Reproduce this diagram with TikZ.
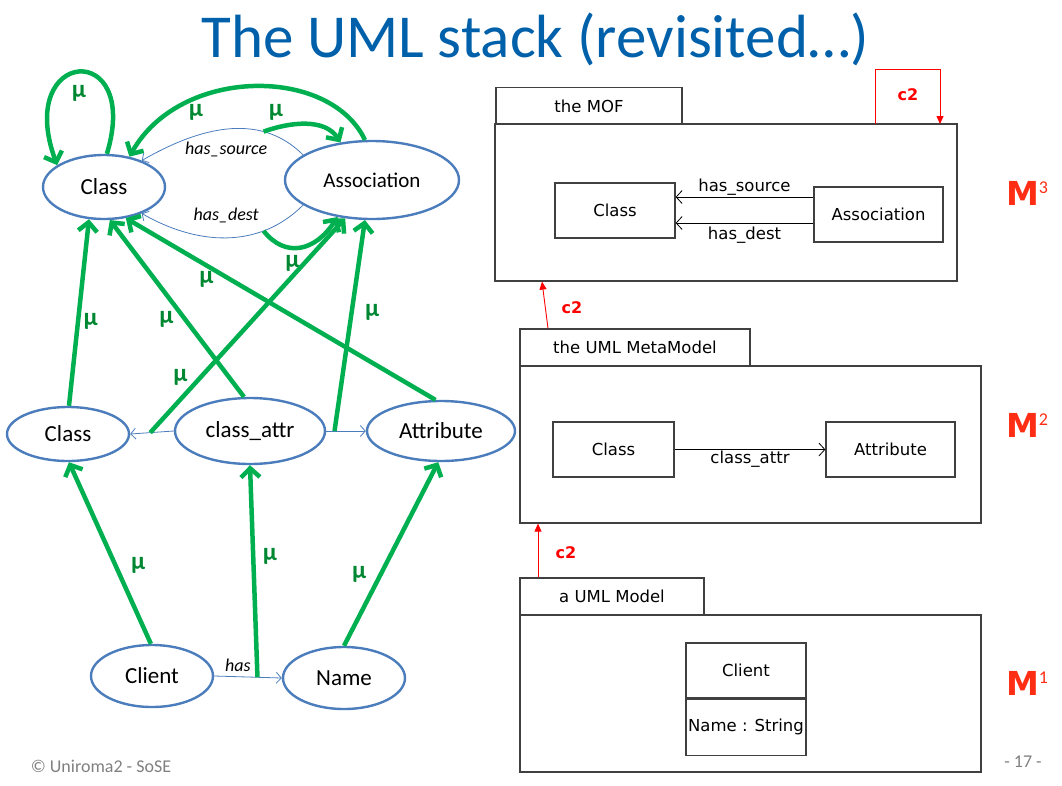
\documentclass[tikz,border=0pt]{standalone}
\usepackage{fontspec}
\setmainfont{Carlito}
\newfontfamily\comic{DejaVu Sans}
\usetikzlibrary{shapes.geometric,arrows.meta}
\definecolor{titleblue}{RGB}{0,96,170}
\definecolor{ublue}{RGB}{75,125,188}
\definecolor{mgreen}{RGB}{0,176,80}
\definecolor{mudark}{RGB}{0,135,50}
\definecolor{lvlred}{RGB}{255,45,20}
\newcommand{\mlev}[1]{{\comic\bfseries M}\raisebox{12pt}{\fontsize{18}{18}\selectfont #1}}
\begin{document}
\begin{tikzpicture}[x=1pt,y=-1pt,
  ell/.style={ellipse,draw=ublue,line width=2.4pt,inner sep=0pt,font=\fontsize{23}{27}\selectfont},
  blink/.style={draw=ublue,line width=0.8pt,-{Straight Barb[length=5pt,width=11pt]}},
  lnk/.style={font=\itshape\fontsize{18}{21}\selectfont},
  mu/.style={draw=mgreen,line width=4.5pt,-{Straight Barb[length=9pt,width=19pt]}},
  mul/.style={text=mudark,font=\bfseries\fontsize{25}{29}\selectfont},
  pkg/.style={rectangle,draw=black!75,line width=1.2pt,inner sep=0pt,font=\comic\fontsize{16.5}{20}\selectfont},
  umlarr/.style={draw=black,line width=0.8pt,-{Straight Barb[length=6pt,width=13pt]}},
  c2arr/.style={draw=red,line width=0.9pt,-{Triangle[length=8pt,width=7pt]}},
  c2lab/.style={text=red,font=\comic\bfseries\fontsize{16}{19}\selectfont},
  lvl/.style={text=lvlred,font=\fontsize{33}{36}\selectfont}]
\useasboundingbox (0,0) rectangle (1062,785);

\node[text=titleblue,font=\fontsize{61}{68}\selectfont] (title) at (535,39) {The UML stack (revisited…)};

% left: instance graph
\node[ell,minimum width=122pt,minimum height=64pt] (C3) at (104,187) {Class};
\node[ell,minimum width=174pt,minimum height=78pt,font=\fontsize{21}{25}\selectfont] (A3) at (372,180) {Association};
\node[ell,minimum width=122pt,minimum height=54pt] (C2) at (68,434) {Class};
\node[ell,minimum width=150pt,minimum height=66pt] (CA) at (250,431) {class\_attr};
\node[ell,minimum width=148pt,minimum height=60pt] (AT) at (441,431) {Attribute};
\node[ell,minimum width=122pt,minimum height=62pt] (CL) at (152,676) {Client};
\node[ell,minimum width=122pt,minimum height=62pt] (NM) at (344,678) {Name};

\draw[blink] (A3.160) to[out=135,in=30] coordinate[pos=.27] (hs) node[lnk,pos=.5,below=9pt] {has\_source} (C3.35);
\draw[blink] (A3.200) to[out=-135,in=-30] coordinate[pos=.27] (hd) node[lnk,pos=.5,above=11pt] {has\_dest} (C3.-35);
\draw[blink] (CA.west) -- coordinate[pos=.54] (lk1) (C2.east);
\draw[blink] (CA.east) -- coordinate[pos=.21] (lk2) (AT.west);
\draw[blink] (CL.east) -- coordinate[pos=.64] (hl) node[lnk,pos=.35,above=1pt] {has} (NM.west);

% mu arrows
\draw[mu] (C3.85) .. controls (142,38) and (14,48) .. node[mul,pos=.5,below=8pt] {μ} (C3.155);
\draw[mu] (A3.100) .. controls (330,66) and (180,66) .. node[mul,pos=.7,below=0pt] {μ} (C3.50);
\draw[mu] (hs) .. controls (290,122) and (325,118) .. node[mul,pos=.15,above=2pt] {μ} (A3.130);
\draw[mu] (hd) .. controls (285,258) and (315,252) .. node[mul,pos=.4,below=2pt] {μ} (A3.-133);
\path (C2.88) edge[mu] node[mul,pos=.45,right] {μ} (C3.-115);
\path (CA.100) edge[mu] node[mul,pos=.44,left=6pt] {μ} (C3.-80);
\path (AT.100) edge[mu] node[mul,pos=.74,below=0pt] {μ} (C3.-55);
\path (lk1) edge[mu] node[mul,pos=.26,left=8pt] {μ} (A3.-125);
\path (lk2) edge[mu] node[mul,pos=.56,right=8pt] {μ} (A3.-100);
\path (CL.92) edge[mu] node[mul,pos=.43,right=10pt] {μ} (C2.-88);
\path (hl) edge[mu] node[mul,pos=.57,right=4pt] {μ} (CA.-90);
\path (NM.90) edge[mu] node[mul,pos=.39,left=9pt] {μ} (AT.-95);

% right: the stack of packages
\node[pkg,minimum width=186pt,minimum height=37pt] (moftab) at (589,106) {the MOF};
\node[pkg,minimum width=462pt,minimum height=157pt] (mof) at (726,202.5) {};
\node[pkg,minimum width=120pt,minimum height=55pt] (mClass) at (615,210.5) {Class};
\node[pkg,minimum width=129pt,minimum height=55pt] (mAssoc) at (878.5,214.5) {Association};
\draw[umlarr] ([yshift=17.5pt]mAssoc.west) -- node[pkg,draw=none,midway,above=1pt] {has\_source} ([yshift=13.5pt]mClass.east);
\draw[umlarr] ([yshift=-8.5pt]mAssoc.west) -- node[pkg,draw=none,midway,below=3pt] {has\_dest} ([yshift=-12.5pt]mClass.east);
\coordinate (loopA) at (875,124);
\coordinate (loopB) at (940,124);
\draw[c2arr] (loopA) -- ++(0,-55) -| (loopB);
\node[c2lab] (c2a) at (908,95) {c2};
\node[lvl] (m3) at (1027,193) {\mlev{3}};

\node[pkg,minimum width=230pt,minimum height=37pt] (mmtab) at (635,347.5) {the UML MetaModel};
\node[pkg,minimum width=461pt,minimum height=157pt] (mm) at (750.5,444.5) {};
\node[pkg,minimum width=121pt,minimum height=55pt] (mmClass) at (613.5,449.5) {Class};
\node[pkg,minimum width=129pt,minimum height=55pt] (mmAttr) at (890.5,449.5) {Attribute};
\draw[umlarr] (mmClass.east) -- node[pkg,draw=none,midway,below=1pt] {class\_attr} (mmAttr.west);
\draw[c2arr] ([xshift=-87pt]mmtab.north) -- ([xshift=-184pt]mof.south);
\node[c2lab] (c2b) at (572,308) {c2};
\node[lvl] (m2) at (1027,425) {\mlev{2}};

\node[pkg,minimum width=184pt,minimum height=37pt] (umltab) at (612,596.5) {a UML Model};
\node[pkg,minimum width=461pt,minimum height=157pt] (uml) at (750.5,693.5) {};
\node[pkg,minimum width=120pt,minimum height=55pt] (uClient) at (746,670.5) {Client};
\node[pkg,minimum width=120pt,minimum height=56pt,anchor=north] (uName) at (uClient.south) {Name : String};
\draw[c2arr] ([xshift=-74pt]umltab.north) -- ([xshift=-212.5pt]mm.south);
\node[c2lab] (c2c) at (566,553) {c2};
\node[lvl] (m1) at (1027,683) {\mlev{1}};

\node[text=gray,font=\fontsize{18}{21}\selectfont] (foot) at (101,766) {© Uniroma2 - SoSE};
\node[text=gray,font=\fontsize{18}{21}\selectfont] (page) at (1023,762) {- 17 -};
\end{tikzpicture}
\end{document}
